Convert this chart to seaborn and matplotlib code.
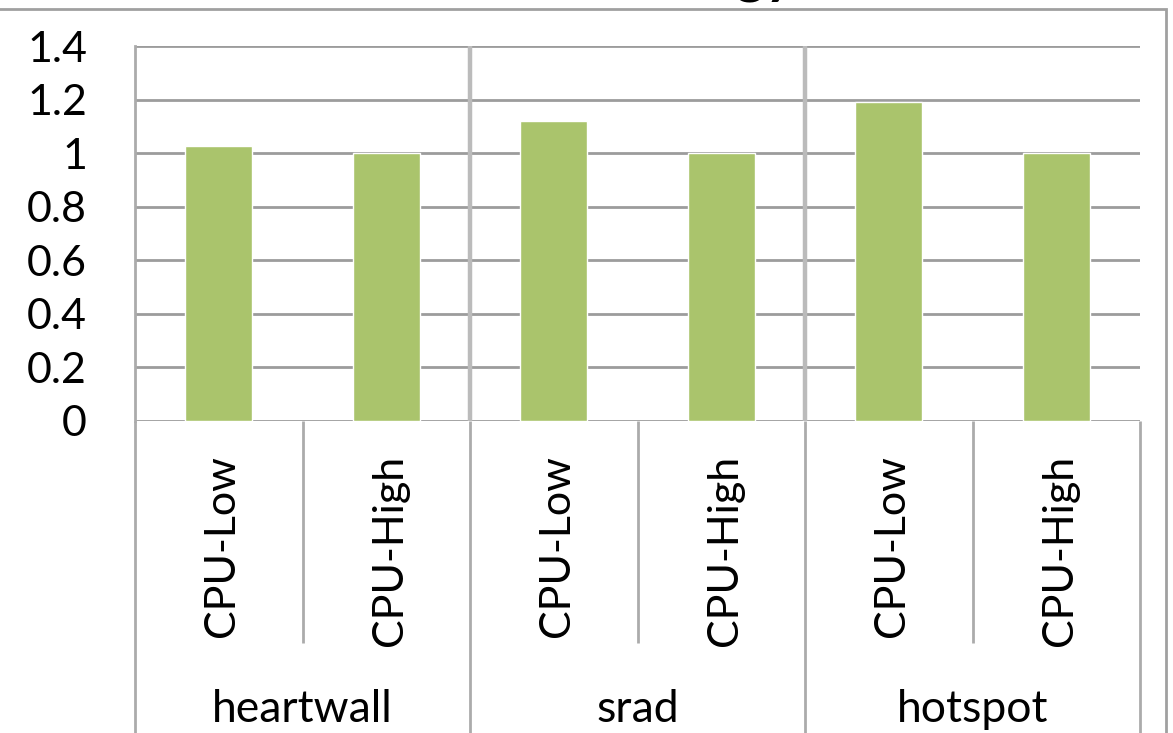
import matplotlib
matplotlib.use("Agg")
import matplotlib.pyplot as plt
from matplotlib.patches import Rectangle
import seaborn as sns
import pandas as pd

# Normalized energy per benchmark and CPU frequency setting
benchmarks = ["heartwall", "srad", "hotspot"]
settings = ["CPU-Low", "CPU-High"]
cpu_low = [1.025, 1.12, 1.19]
cpu_high = [1.0, 1.0, 1.0]
y_ticks = [0, 0.2, 0.4, 0.6, 0.8, 1, 1.2, 1.4]
y_tick_labels = ["0", "0.2", "0.4", "0.6", "0.8", "1", "1.2", "1.4"]

rows = []
for b, lo, hi in zip(benchmarks, cpu_low, cpu_high):
    rows.append({"key": f"{b}|CPU-Low", "bench": b, "setting": "CPU-Low", "value": lo})
    rows.append({"key": f"{b}|CPU-High", "bench": b, "setting": "CPU-High", "value": hi})
df = pd.DataFrame(rows)

sns.set_theme(style="white")
plt.rcParams["font.family"] = ["Lato", "DejaVu Sans"]

W, H = 1173, 733
fig = plt.figure(figsize=(W / 100, H / 100), dpi=100)

left_px, right_px, top_px, bottom_px = 135, 1140, 46, 421
ax = fig.add_axes([left_px / W, 1 - bottom_px / H,
                   (right_px - left_px) / W, (bottom_px - top_px) / H])

bar_color = "#AAC46C"
sns.barplot(data=df, x="key", y="value", color=bar_color, width=0.4,
            saturation=1, ax=ax, errorbar=None, zorder=3)

n = len(df)
ax.set_xlim(-0.5, n - 0.5)
ax.set_ylim(0, 1.4)
ax.set_yticks(y_ticks)
ax.set_yticklabels(y_tick_labels)
ax.set_xticks([])
ax.set_xlabel("")
ax.set_ylabel("")

grid_c = "#9C9C9C"
for yv in y_ticks:
    ax.axhline(yv, color=grid_c, lw=2.0, zorder=1)

for s in ["top", "right", "bottom"]:
    ax.spines[s].set_visible(False)
ax.spines["left"].set_color("#ABABAB")
ax.spines["left"].set_linewidth(2.0)
ax.tick_params(axis="y", length=12.5, width=1.4, color=grid_c, pad=22,
               labelsize=31, labelcolor="black")

# Units per pixel vertically, for the category area below the axis
upp = 1.4 / (bottom_px - top_px)
y_bottom = -(H - bottom_px) * upp
y_sub = -(643 - bottom_px) * upp

# Group separators inside the plot
for g in range(1, len(benchmarks)):
    xg = 2 * g - 0.5
    ax.plot([xg, xg], [0, 1.4], color="#BBBBBB", lw=3.2, zorder=2,
            solid_capstyle="butt")

# Separators in the category area
sep_c = "#ABABAB"
for g in range(len(benchmarks) + 1):
    xg = 2 * g - 0.5
    ax.plot([xg, xg], [0, y_bottom], color=sep_c, lw=2.0, clip_on=False,
            solid_capstyle="butt")
for g in range(len(benchmarks)):
    xs = 2 * g + 0.5
    ax.plot([xs, xs], [0, y_sub], color=sep_c, lw=2.0, clip_on=False,
            solid_capstyle="butt")

# Rotated setting labels and group labels
label_top = -(455 - bottom_px) * upp
for i, row in df.iterrows():
    ax.text(i + 0.02, label_top, row["setting"], rotation=90, ha="center",
            va="top", fontsize=31, color="black", clip_on=False)
group_base = -(722 - bottom_px) * upp
for g, b in enumerate(benchmarks):
    ax.text(2 * g + 0.5, group_base, b, ha="center", va="baseline",
            fontsize=32, color="black", clip_on=False)

# Chart frame
frame = Rectangle((-10 / W, -10 / H), (1166 + 10) / W, (H - 9 + 10) / H,
                  transform=fig.transFigure, fill=False, edgecolor="#A0A0A0",
                  lw=2.0, zorder=0)
fig.patches.append(frame)

fig.text(795 / W, 1 + 7 / H, "Energy", ha="right", va="baseline",
         fontsize=40, fontweight="bold", color="black")

fig.savefig("out.png", dpi=100)
